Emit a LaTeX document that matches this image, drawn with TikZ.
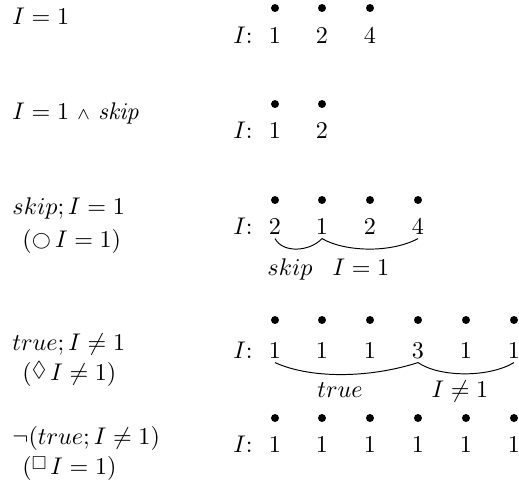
\documentclass[tikz,border=0pt]{standalone}
\usepackage{amssymb}
\usepackage{graphicx}
\newcommand{\circsym}{\raisebox{0.1ex}{$\scriptstyle\bigcirc$}}
\newcommand{\diasym}{\raisebox{0.35ex}{\scalebox{0.9}{$\Diamond$}}}
\newcommand{\boxsym}{\raisebox{0.45ex}{\scalebox{0.78}{$\Box$}}}
\begin{document}
\begin{tikzpicture}[x=0.415pt,y=-0.415pt,
  txt/.style={inner sep=0pt, anchor=base west},
  num/.style={inner sep=0pt, anchor=base},
  dot/.style={circle, fill=black, inner sep=0pt, minimum size=3.3pt},
  brace/.style={draw=black, line width=0.4pt}]
\useasboundingbox (0,0) rectangle (519,499);

% Row 1
\node[txt] (l1) at (12,24) {$I = 1$};
\node[txt] (i1) at (233,43) {$I$:};
\foreach \x/\v [count=\k] in {275/1,322/2,370/4} {
  \node[num] (n1\k) at (\x,43) {$\v$};
  \node[dot] (d1\k) at (\x,8) {};
}

% Row 2
\node[txt] (l2) at (12,119) {$I = 1\ {\scriptstyle\wedge}\ \mathit{skip}$};
\node[txt] (i2) at (233,138) {$I$:};
\foreach \x/\v [count=\k] in {275/1,322/2} {
  \node[num] (n2\k) at (\x,138) {$\v$};
  \node[dot] (d2\k) at (\x,104) {};
}

% Row 3
\node[txt] (l3a) at (12,214) {$skip; I = 1$};
\node[txt] (l3b) at (22,247) {$(\circsym\, I = 1)$};
\node[txt] (i3) at (233,234) {$I$:};
\foreach \x/\v [count=\k] in {275/2,322/1,370/2,418/4} {
  \node[num] (n3\k) at (\x,234) {$\v$};
  \node[dot] (d3\k) at (\x,200) {};
}
\draw[brace] ([yshift=-1.7pt]n31.south) .. controls +(8,15) and +(-12,13) .. ([yshift=-1.7pt]n32.south);
\draw[brace] ([yshift=-1.7pt]n32.south) .. controls +(22,13) and +(-28,15) .. ([yshift=-1.7pt]n34.south);
\node[num] (s3a) at (290,275) {$skip$};
\node[num] (s3b) at (361,275) {$I = 1$};

% Row 4
\node[txt] (l4a) at (12,350) {$true; I \neq 1$};
\node[txt] (l4b) at (22,380) {$(\diasym\, I \neq 1)$};
\node[txt] (i4) at (233,358) {$I$:};
\foreach \x/\v [count=\k] in {275/1,322/1,370/1,418/3,466/1,514/1} {
  \node[num] (n4\k) at (\x,358) {$\v$};
  \node[dot] (d4\k) at (\x,320) {};
}
\draw[brace] ([yshift=-1.7pt]n41.south) .. controls +(35,16) and +(-50,16) .. ([yshift=-1.7pt]n44.south);
\draw[brace] ([yshift=-1.7pt]n44.south) .. controls +(22,15) and +(-25,15) .. ([yshift=-1.7pt]n46.south);
\node[num] (s4a) at (340,397) {$true$};
\node[num] (s4b) at (460,397) {$I \neq 1$};

% Row 5
\node[txt] (l5a) at (12,444) {$\neg(true; I \neq 1)$};
\node[txt] (l5b) at (22,474) {$(\boxsym\, I = 1)$};
\node[txt] (i5) at (233,452) {$I$:};
\foreach \x/\v [count=\k] in {275/1,322/1,370/1,418/1,466/1,514/1} {
  \node[num] (n5\k) at (\x,452) {$\v$};
  \node[dot] (d5\k) at (\x,418) {};
}
\end{tikzpicture}
\end{document}
